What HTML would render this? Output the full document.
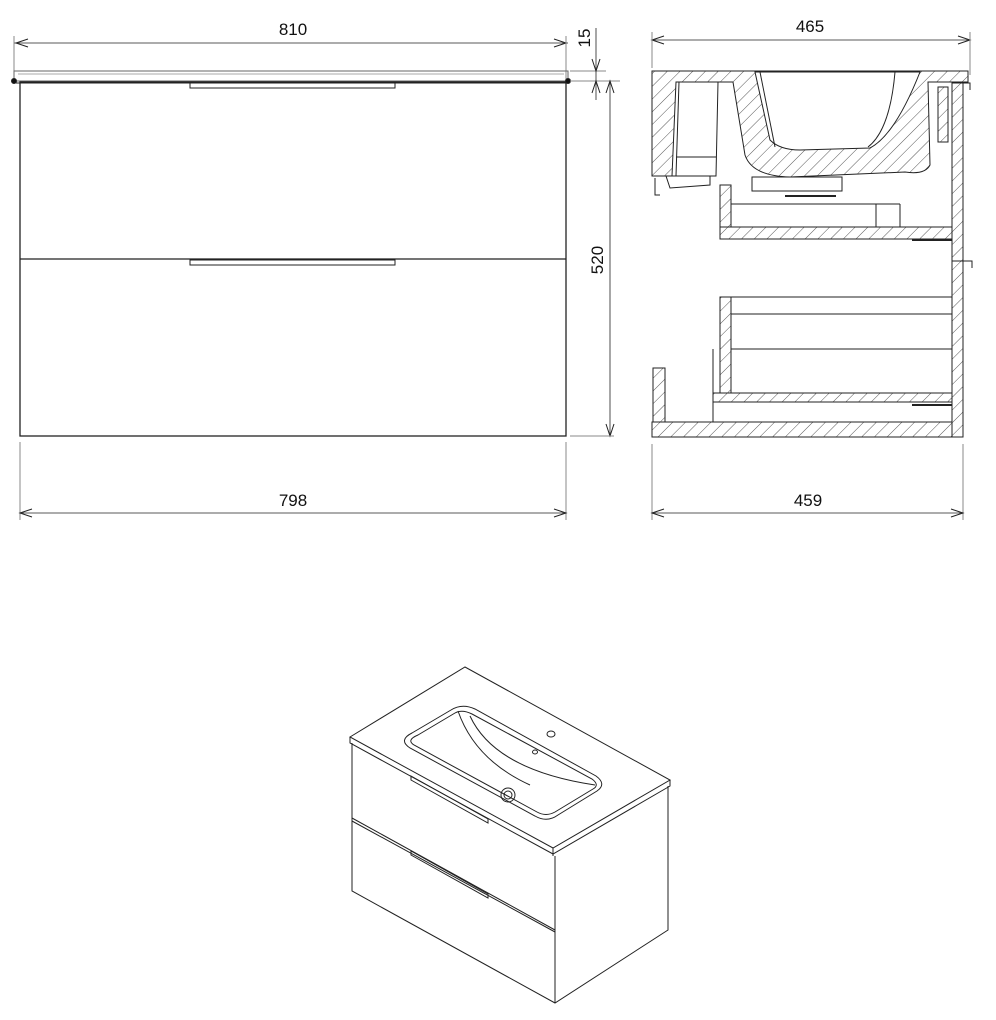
<!DOCTYPE html>
<html><head><meta charset="utf-8"><style>
html,body{margin:0;padding:0;background:#fff}
svg{display:block}
text{font-family:"Liberation Sans Narrow","Liberation Sans",sans-serif;font-size:17px;fill:#111}
</style></head><body>
<svg width="996" height="1020" viewBox="0 0 996 1020" xmlns="http://www.w3.org/2000/svg">
<defs>
<pattern id="h" patternUnits="userSpaceOnUse" width="9" height="9" patternTransform="rotate(45)">
<rect width="9" height="9" fill="#fff"/><line x1="0" y1="0" x2="0" y2="9" stroke="#444" stroke-width="0.9"/>
</pattern>
</defs>
<g fill="none" stroke="#222" stroke-width="1">
<!-- FRONT VIEW -->
<line x1="14" y1="43" x2="568" y2="43" stroke-width="0.8"/>
<polyline points="28,39 16,43 28,47" /><polyline points="554,39 566,43 554,47"/>
<line x1="14" y1="36" x2="14" y2="80" stroke="#888"/><line x1="566" y1="36" x2="566" y2="80" stroke="#888"/>
<rect x="14" y="71" width="554" height="10" stroke="#666"/>
<line x1="18" y1="74" x2="564" y2="74" stroke="#aaa"/>
<line x1="16" y1="83" x2="566" y2="83" />
<rect x="20" y="82" width="546" height="354" stroke-width="1.3"/>
<rect x="190" y="82" width="205" height="6"/>
<line x1="20" y1="259" x2="566" y2="259" stroke-width="1.3"/>
<rect x="190" y="260" width="205" height="5"/>
<circle cx="14" cy="81" r="2.5" fill="#111"/><circle cx="568" cy="81" r="2.5" fill="#111"/>
<!-- 15 dim -->
<line x1="570" y1="71" x2="606" y2="71" stroke="#888"/>
<line x1="570" y1="81" x2="620" y2="81" stroke="#888"/>
<line x1="596" y1="28" x2="596" y2="100" stroke-width="0.8"/>
<polyline points="592,59 596,71 600,59"/><polyline points="592,93 596,81 600,93"/>
<!-- 520 -->
<line x1="610" y1="81" x2="610" y2="436" stroke-width="0.8"/>
<polyline points="606,93 610,81 614,93"/><polyline points="606,424 610,436 614,424"/>
<line x1="570" y1="436" x2="614" y2="436" stroke="#888"/>
<!-- 798 -->
<line x1="20" y1="442" x2="20" y2="520" stroke="#888"/><line x1="566" y1="442" x2="566" y2="520" stroke="#888"/>
<line x1="20" y1="513" x2="566" y2="513" stroke-width="0.8"/>
<polyline points="32,509 20,513 32,517"/><polyline points="554,509 566,513 554,517"/>

<!-- SIDE VIEW -->
<line x1="652" y1="40" x2="970" y2="40" stroke-width="0.8"/>
<polyline points="664,36 652,40 664,44"/><polyline points="958,36 970,40 958,44"/>
<line x1="652" y1="32" x2="652" y2="68" stroke="#888"/><line x1="970" y1="32" x2="970" y2="75" stroke="#888"/>
<line x1="652" y1="444" x2="652" y2="520" stroke="#888"/><line x1="963" y1="444" x2="963" y2="520" stroke="#888"/>
<line x1="652" y1="513" x2="963" y2="513" stroke-width="0.8"/>
<polyline points="664,509 652,513 664,517"/><polyline points="951,509 963,513 951,517"/>

<path d="M652,71 H968 V82 H952 V82 H928 L930,165 Q925,175 905,172 L790,177 Q752,176 745,155 L733,82 H716 V82 H676 L672,176 H652 Z" fill="url(#h)"/>
<path d="M755,72 L770,140 Q780,150 800,150 L870,148 Q895,135 920,72 Z" fill="#fff"/>
<line x1="760" y1="72" x2="775" y2="147"/>
<path d="M895,72 Q890,130 868,147"/>
<rect x="952" y="82" width="11" height="355" fill="url(#h)"/>
<rect x="652" y="422" width="300" height="15" fill="url(#h)"/>
<rect x="653" y="368" width="12" height="54" fill="url(#h)"/>
<rect x="720" y="227" width="232" height="12" fill="url(#h)"/>
<rect x="720" y="185" width="11" height="42" fill="url(#h)"/>
<rect x="720" y="297" width="11" height="96" fill="url(#h)"/>
<rect x="713" y="393" width="239" height="9" fill="url(#h)"/>
<rect x="938" y="87" width="10" height="55" fill="url(#h)"/>
<line x1="731" y1="204" x2="900" y2="204"/><line x1="900" y1="204" x2="900" y2="227"/><line x1="876" y1="204" x2="876" y2="227"/>
<line x1="731" y1="297" x2="952" y2="297"/><line x1="731" y1="314" x2="952" y2="314"/><line x1="731" y1="349" x2="952" y2="349"/>
<line x1="713" y1="349" x2="713" y2="422"/><line x1="713" y1="402" x2="952" y2="402"/>
<path d="M679,82 L676,176 H716 L718,82 Z" fill="#fff"/>
<line x1="676" y1="157" x2="716" y2="157"/>
<path d="M666,176 H710 V185 L670,188 Z" fill="#fff"/>
<rect x="752" y="177" width="90" height="14" fill="#fff"/>
<line x1="785" y1="196" x2="836" y2="196" stroke-width="2"/>
<line x1="912" y1="240" x2="952" y2="240" stroke-width="2"/>
<line x1="912" y1="405" x2="952" y2="405" stroke-width="2"/>
<path d="M952,83 H970 V90"/><path d="M952,261 H972 V268"/>
<path d="M655,178 V195 H660"/>

<!-- ISO VIEW -->
<path d="M350,737 L465,667 L670,780 L553,848 Z"/>
<path d="M350,737 V743 L553,854 L670,786 V780"/>
<line x1="553" y1="848" x2="553" y2="856"/>
<path d="M352,743 V891 L555,1003 L668,930 V786"/>
<line x1="555" y1="856" x2="555" y2="1003"/>
<line x1="352" y1="818" x2="555" y2="930"/>
<path d="M352,821 L555,932"/>
<path d="M412,733 L451,710 Q462,703 475,709 L596,776 Q607,784 597,791 L558,815 Q547,823 535,816 L410,748 Q398,740 412,733 Z"/>
<path d="M418,735 L455,713 Q462,709 472,714 L592,779 Q600,785 593,789 L555,812 Q546,817 537,812 L414,745 Q406,740 418,735 Z"/>
<path d="M458,711 Q475,760 530,785"/>
<path d="M470,716 Q495,770 595,785"/>
<circle cx="508" cy="795" r="7"/><circle cx="508" cy="795" r="4"/>
<ellipse cx="551" cy="734" rx="4" ry="3"/>
<ellipse cx="535" cy="752" rx="2.5" ry="2"/>
<path d="M411,776 L488,819 L488,823 L411,780 Z"/>
<path d="M411,851 L488,894 L488,898 L411,855 Z"/>
</g>
<text x="293" y="35" text-anchor="middle">810</text>
<text x="293" y="506" text-anchor="middle">798</text>
<text x="810" y="32" text-anchor="middle">465</text>
<text x="808" y="506" text-anchor="middle">459</text>
<text transform="translate(590,38) rotate(-90)" text-anchor="middle">15</text>
<text transform="translate(603,260) rotate(-90)" text-anchor="middle">520</text>
</svg>
</body></html>
